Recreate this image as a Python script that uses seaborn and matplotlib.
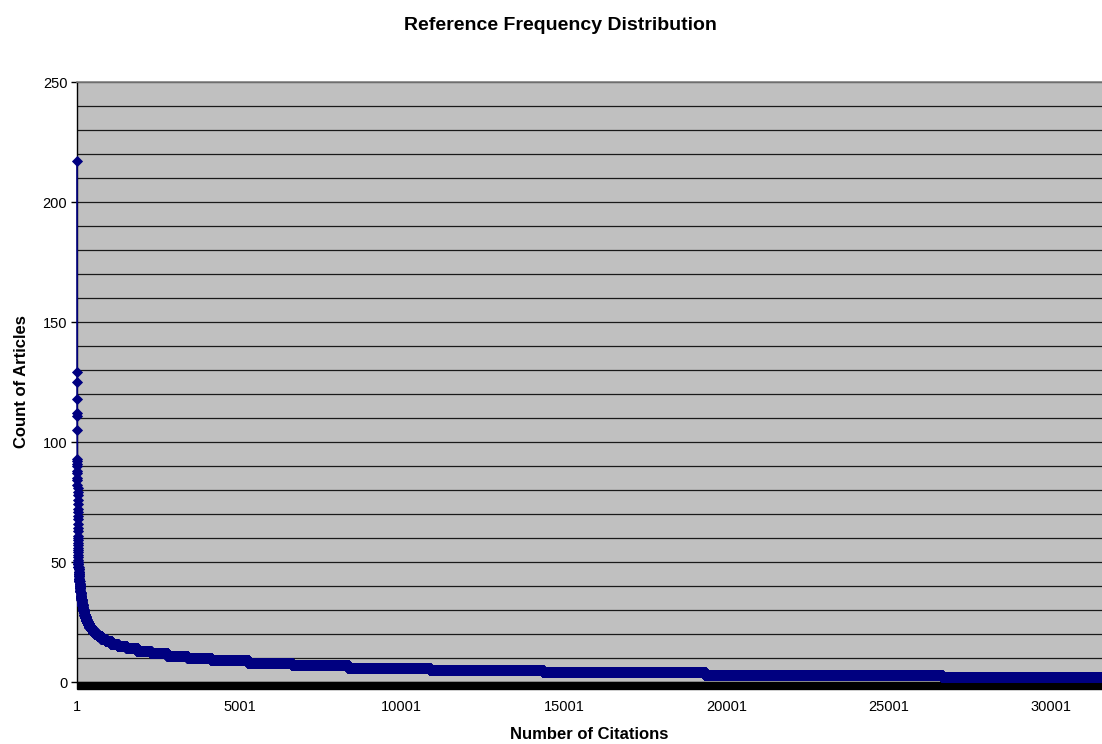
import numpy as np
import pandas as pd
import matplotlib
matplotlib.use('Agg')
from matplotlib import pyplot as plt
from matplotlib.patches import Rectangle
import seaborn as sns

# top of the distribution, one value per article
head_counts = [217, 129, 125, 118, 112, 111, 105, 93, 92, 91, 90, 88, 87, 85,
               84, 82, 81, 79, 78, 76, 74, 72, 71, 69, 68, 66, 64, 63, 61, 60,
               59, 58, 57, 56, 55, 54, 53, 52, 51]
# rest of the curve: each plateau level and how many articles sit on it
tail_levels = [50, 49, 48, 47, 46, 45, 44, 43, 42, 41, 40, 39, 38, 37, 36, 35,
               34, 33, 32, 31, 30, 29, 28, 27, 26, 25, 24, 23, 22, 21, 20, 19,
               18, 17, 16, 15, 14, 13, 12, 11, 10, 9, 8, 7, 6, 5, 4, 3, 2]
tail_lengths = [3, 3, 3, 4, 4, 5, 5, 6, 6, 7, 7, 8, 8, 9, 10, 11,
                12, 13, 14, 15, 16, 18, 21, 24, 29, 34, 44, 52, 57, 68, 85, 110,
                135, 165, 205, 265, 330, 420, 510, 620, 730, 1140, 1350, 1730,
                2520, 3480, 4990, 7300, 4930]
xtick_labels = ['1', '5001', '10001', '15001', '20001', '25001', '30001']

counts = np.concatenate([head_counts, np.repeat(tail_levels, tail_lengths)])
data = pd.DataFrame({'rank': np.arange(1, len(counts) + 1), 'count': counts})

sns.set_style('white')
plt.rcParams['font.family'] = ['Liberation Sans', 'DejaVu Sans']
plt.rcParams.update({'text.color': 'black', 'axes.labelcolor': 'black',
                     'xtick.color': 'black', 'ytick.color': 'black'})

fig = plt.figure(figsize=(11.02, 7.44), dpi=100)
ax = fig.add_axes([77 / 1102, 1 - 682 / 744, 1 - 77 / 1102, 600 / 744])
ax.set_facecolor('#C0C0C0')

sns.lineplot(x='rank', y='count', data=data, estimator=None, color='#000080',
             lw=1.2, marker='D', markersize=5.5, markeredgecolor='#000080',
             markeredgewidth=0.6, ax=ax, zorder=5, clip_on=False)

ax.set_xlim(1, len(counts))
ax.set_ylim(0, 250)
ax.set_yticks(range(0, 251, 50))
ax.set_yticks(range(0, 251, 10), minor=True)
ax.grid(True, axis='y', which='both', color='#1a1a1a', lw=0.9, zorder=1)
ax.set_axisbelow(True)

ax.set_xticks([int(s) for s in xtick_labels])
ax.set_xticklabels(xtick_labels)
ax.tick_params(axis='x', length=0, pad=13, labelsize=10.5)
ax.tick_params(axis='y', which='major', left=True, length=4, width=1,
               color='black', pad=3, labelsize=10.5)
ax.tick_params(axis='y', which='minor', left=False)

for side in ['right', 'bottom']:
    ax.spines[side].set_visible(False)
ax.spines['left'].set_color('black')
ax.spines['left'].set_linewidth(1)
ax.spines['top'].set_color('#808080')
ax.spines['top'].set_linewidth(1.2)

# dense category tick marks form a solid black band under the axis
ax.add_patch(Rectangle((1, -7 / 600), len(counts), 7 / 600,
                       transform=ax.get_xaxis_transform(), color='black',
                       clip_on=False, zorder=4))

ax.set_xlabel('Number of Citations', fontsize=12, fontweight='bold', labelpad=9)
ax.set_ylabel('Count of Articles', fontsize=12, fontweight='bold', labelpad=10)
fig.text(560 / 1102, 1 - 25 / 744, 'Reference Frequency Distribution',
         ha='center', va='center', fontsize=14, fontweight='bold')

fig.savefig('out.png', dpi=100)
